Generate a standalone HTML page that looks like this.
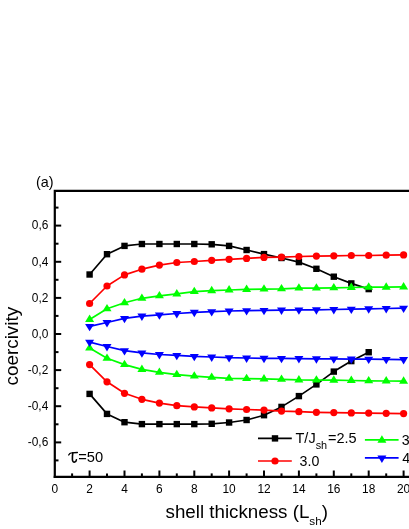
<!DOCTYPE html>
<html><head><meta charset="utf-8"><title>chart</title>
<style>
html,body{margin:0;padding:0;background:#fff;}
body{width:409px;height:529px;position:relative;overflow:hidden;font-family:"Liberation Sans",sans-serif;}
</style></head><body>
<svg width="409" height="529" viewBox="0 0 409 529" style="position:absolute;left:0;top:0;will-change:transform">
<polyline points="89.6,274.5 107.0,254.2 124.5,245.9 141.9,244.0 159.4,244.0 176.8,244.0 194.3,244.0 211.7,244.3 229.1,245.9 246.6,250.0 264.0,254.1 281.5,258.0 298.9,262.1 316.4,268.8 333.8,276.7 351.3,283.4 368.7,289.1" fill="none" stroke="#000" stroke-width="1.7" stroke-linejoin="round"/>
<rect x="86.4" y="271.3" width="6.4" height="6.4" fill="#000"/><rect x="103.8" y="251.0" width="6.4" height="6.4" fill="#000"/><rect x="121.3" y="242.7" width="6.4" height="6.4" fill="#000"/><rect x="138.7" y="240.8" width="6.4" height="6.4" fill="#000"/><rect x="156.2" y="240.8" width="6.4" height="6.4" fill="#000"/><rect x="173.6" y="240.8" width="6.4" height="6.4" fill="#000"/><rect x="191.1" y="240.8" width="6.4" height="6.4" fill="#000"/><rect x="208.5" y="241.1" width="6.4" height="6.4" fill="#000"/><rect x="225.9" y="242.7" width="6.4" height="6.4" fill="#000"/><rect x="243.4" y="246.8" width="6.4" height="6.4" fill="#000"/><rect x="260.8" y="250.9" width="6.4" height="6.4" fill="#000"/><rect x="278.3" y="254.8" width="6.4" height="6.4" fill="#000"/><rect x="295.7" y="258.9" width="6.4" height="6.4" fill="#000"/><rect x="313.2" y="265.6" width="6.4" height="6.4" fill="#000"/><rect x="330.6" y="273.5" width="6.4" height="6.4" fill="#000"/><rect x="348.1" y="280.2" width="6.4" height="6.4" fill="#000"/><rect x="365.5" y="285.9" width="6.4" height="6.4" fill="#000"/>
<polyline points="89.6,393.9 107.0,413.9 124.5,422.2 141.9,424.1 159.4,424.1 176.8,424.1 194.3,424.1 211.7,423.8 229.1,422.5 246.6,420.0 264.0,415.2 281.5,406.9 298.9,396.1 316.4,384.4 333.8,371.6 351.3,361.1 368.7,352.2" fill="none" stroke="#000" stroke-width="1.7" stroke-linejoin="round"/>
<rect x="86.4" y="390.7" width="6.4" height="6.4" fill="#000"/><rect x="103.8" y="410.7" width="6.4" height="6.4" fill="#000"/><rect x="121.3" y="419.0" width="6.4" height="6.4" fill="#000"/><rect x="138.7" y="420.9" width="6.4" height="6.4" fill="#000"/><rect x="156.2" y="420.9" width="6.4" height="6.4" fill="#000"/><rect x="173.6" y="420.9" width="6.4" height="6.4" fill="#000"/><rect x="191.1" y="420.9" width="6.4" height="6.4" fill="#000"/><rect x="208.5" y="420.6" width="6.4" height="6.4" fill="#000"/><rect x="225.9" y="419.3" width="6.4" height="6.4" fill="#000"/><rect x="243.4" y="416.8" width="6.4" height="6.4" fill="#000"/><rect x="260.8" y="412.0" width="6.4" height="6.4" fill="#000"/><rect x="278.3" y="403.7" width="6.4" height="6.4" fill="#000"/><rect x="295.7" y="392.9" width="6.4" height="6.4" fill="#000"/><rect x="313.2" y="381.2" width="6.4" height="6.4" fill="#000"/><rect x="330.6" y="368.4" width="6.4" height="6.4" fill="#000"/><rect x="348.1" y="357.9" width="6.4" height="6.4" fill="#000"/><rect x="365.5" y="349.0" width="6.4" height="6.4" fill="#000"/>
<polyline points="89.6,303.5 107.0,286.0 124.5,274.9 141.9,269.2 159.4,265.1 176.8,262.5 194.3,261.5 211.7,260.3 229.1,259.3 246.6,258.4 264.0,257.4 281.5,257.1 298.9,256.5 316.4,256.1 333.8,255.8 351.3,255.5 368.7,255.5 386.2,255.2 403.6,254.9" fill="none" stroke="#ff0000" stroke-width="1.7" stroke-linejoin="round"/>
<circle cx="89.6" cy="303.5" r="3.6" fill="#ff0000"/><circle cx="107.0" cy="286.0" r="3.6" fill="#ff0000"/><circle cx="124.5" cy="274.9" r="3.6" fill="#ff0000"/><circle cx="141.9" cy="269.2" r="3.6" fill="#ff0000"/><circle cx="159.4" cy="265.1" r="3.6" fill="#ff0000"/><circle cx="176.8" cy="262.5" r="3.6" fill="#ff0000"/><circle cx="194.3" cy="261.5" r="3.6" fill="#ff0000"/><circle cx="211.7" cy="260.3" r="3.6" fill="#ff0000"/><circle cx="229.1" cy="259.3" r="3.6" fill="#ff0000"/><circle cx="246.6" cy="258.4" r="3.6" fill="#ff0000"/><circle cx="264.0" cy="257.4" r="3.6" fill="#ff0000"/><circle cx="281.5" cy="257.1" r="3.6" fill="#ff0000"/><circle cx="298.9" cy="256.5" r="3.6" fill="#ff0000"/><circle cx="316.4" cy="256.1" r="3.6" fill="#ff0000"/><circle cx="333.8" cy="255.8" r="3.6" fill="#ff0000"/><circle cx="351.3" cy="255.5" r="3.6" fill="#ff0000"/><circle cx="368.7" cy="255.5" r="3.6" fill="#ff0000"/><circle cx="386.2" cy="255.2" r="3.6" fill="#ff0000"/><circle cx="403.6" cy="254.9" r="3.6" fill="#ff0000"/>
<polyline points="89.6,364.6 107.0,381.8 124.5,393.3 141.9,399.3 159.4,403.1 176.8,405.7 194.3,406.9 211.7,407.9 229.1,408.8 246.6,409.5 264.0,410.1 281.5,411.1 298.9,411.7 316.4,412.3 333.8,412.6 351.3,412.9 368.7,413.1 386.2,413.3 403.6,413.6" fill="none" stroke="#ff0000" stroke-width="1.7" stroke-linejoin="round"/>
<circle cx="89.6" cy="364.6" r="3.6" fill="#ff0000"/><circle cx="107.0" cy="381.8" r="3.6" fill="#ff0000"/><circle cx="124.5" cy="393.3" r="3.6" fill="#ff0000"/><circle cx="141.9" cy="399.3" r="3.6" fill="#ff0000"/><circle cx="159.4" cy="403.1" r="3.6" fill="#ff0000"/><circle cx="176.8" cy="405.7" r="3.6" fill="#ff0000"/><circle cx="194.3" cy="406.9" r="3.6" fill="#ff0000"/><circle cx="211.7" cy="407.9" r="3.6" fill="#ff0000"/><circle cx="229.1" cy="408.8" r="3.6" fill="#ff0000"/><circle cx="246.6" cy="409.5" r="3.6" fill="#ff0000"/><circle cx="264.0" cy="410.1" r="3.6" fill="#ff0000"/><circle cx="281.5" cy="411.1" r="3.6" fill="#ff0000"/><circle cx="298.9" cy="411.7" r="3.6" fill="#ff0000"/><circle cx="316.4" cy="412.3" r="3.6" fill="#ff0000"/><circle cx="333.8" cy="412.6" r="3.6" fill="#ff0000"/><circle cx="351.3" cy="412.9" r="3.6" fill="#ff0000"/><circle cx="368.7" cy="413.1" r="3.6" fill="#ff0000"/><circle cx="386.2" cy="413.3" r="3.6" fill="#ff0000"/><circle cx="403.6" cy="413.6" r="3.6" fill="#ff0000"/>
<polyline points="89.6,319.4 107.0,308.8 124.5,302.8 141.9,298.3 159.4,295.8 176.8,293.9 194.3,291.6 211.7,290.7 229.1,290.0 246.6,289.4 264.0,289.1 281.5,288.8 298.9,288.1 316.4,288.1 333.8,287.8 351.3,287.5 368.7,287.2 386.2,287.2 403.6,286.9" fill="none" stroke="#00ff00" stroke-width="1.7" stroke-linejoin="round"/>
<polygon points="85.1,321.9 94.1,321.9 89.6,314.5" fill="#00ff00"/><polygon points="102.5,311.3 111.5,311.3 107.0,303.9" fill="#00ff00"/><polygon points="120.0,305.3 129.0,305.3 124.5,297.9" fill="#00ff00"/><polygon points="137.4,300.8 146.4,300.8 141.9,293.4" fill="#00ff00"/><polygon points="154.9,298.3 163.9,298.3 159.4,290.9" fill="#00ff00"/><polygon points="172.3,296.4 181.3,296.4 176.8,289.0" fill="#00ff00"/><polygon points="189.8,294.1 198.8,294.1 194.3,286.7" fill="#00ff00"/><polygon points="207.2,293.2 216.2,293.2 211.7,285.8" fill="#00ff00"/><polygon points="224.6,292.5 233.6,292.5 229.1,285.1" fill="#00ff00"/><polygon points="242.1,291.9 251.1,291.9 246.6,284.5" fill="#00ff00"/><polygon points="259.5,291.6 268.5,291.6 264.0,284.2" fill="#00ff00"/><polygon points="277.0,291.3 286.0,291.3 281.5,283.9" fill="#00ff00"/><polygon points="294.4,290.6 303.4,290.6 298.9,283.2" fill="#00ff00"/><polygon points="311.9,290.6 320.9,290.6 316.4,283.2" fill="#00ff00"/><polygon points="329.3,290.3 338.3,290.3 333.8,282.9" fill="#00ff00"/><polygon points="346.8,290.0 355.8,290.0 351.3,282.6" fill="#00ff00"/><polygon points="364.2,289.7 373.2,289.7 368.7,282.3" fill="#00ff00"/><polygon points="381.7,289.7 390.7,289.7 386.2,282.3" fill="#00ff00"/><polygon points="399.1,289.4 408.1,289.4 403.6,282.0" fill="#00ff00"/>
<polyline points="89.6,348.1 107.0,358.3 124.5,364.6 141.9,369.4 159.4,372.3 176.8,374.6 194.3,376.1 211.7,377.3 229.1,378.3 246.6,378.6 264.0,378.9 281.5,379.3 298.9,379.9 316.4,380.1 333.8,380.2 351.3,380.5 368.7,380.8 386.2,381.0 403.6,381.2" fill="none" stroke="#00ff00" stroke-width="1.7" stroke-linejoin="round"/>
<polygon points="85.1,350.6 94.1,350.6 89.6,343.2" fill="#00ff00"/><polygon points="102.5,360.8 111.5,360.8 107.0,353.4" fill="#00ff00"/><polygon points="120.0,367.1 129.0,367.1 124.5,359.7" fill="#00ff00"/><polygon points="137.4,371.9 146.4,371.9 141.9,364.5" fill="#00ff00"/><polygon points="154.9,374.8 163.9,374.8 159.4,367.4" fill="#00ff00"/><polygon points="172.3,377.1 181.3,377.1 176.8,369.7" fill="#00ff00"/><polygon points="189.8,378.6 198.8,378.6 194.3,371.2" fill="#00ff00"/><polygon points="207.2,379.8 216.2,379.8 211.7,372.4" fill="#00ff00"/><polygon points="224.6,380.8 233.6,380.8 229.1,373.4" fill="#00ff00"/><polygon points="242.1,381.1 251.1,381.1 246.6,373.7" fill="#00ff00"/><polygon points="259.5,381.4 268.5,381.4 264.0,374.0" fill="#00ff00"/><polygon points="277.0,381.8 286.0,381.8 281.5,374.4" fill="#00ff00"/><polygon points="294.4,382.4 303.4,382.4 298.9,375.0" fill="#00ff00"/><polygon points="311.9,382.6 320.9,382.6 316.4,375.2" fill="#00ff00"/><polygon points="329.3,382.7 338.3,382.7 333.8,375.3" fill="#00ff00"/><polygon points="346.8,383.0 355.8,383.0 351.3,375.6" fill="#00ff00"/><polygon points="364.2,383.3 373.2,383.3 368.7,375.9" fill="#00ff00"/><polygon points="381.7,383.5 390.7,383.5 386.2,376.1" fill="#00ff00"/><polygon points="399.1,383.7 408.1,383.7 403.6,376.3" fill="#00ff00"/>
<polyline points="89.6,326.4 107.0,322.5 124.5,318.4 141.9,316.1 159.4,314.9 176.8,313.5 194.3,312.3 211.7,311.7 229.1,311.0 246.6,310.7 264.0,310.4 281.5,310.1 298.9,309.9 316.4,309.8 333.8,309.5 351.3,309.2 368.7,308.8 386.2,308.5 403.6,308.2" fill="none" stroke="#0000ff" stroke-width="1.7" stroke-linejoin="round"/>
<polygon points="85.1,323.9 94.1,323.9 89.6,331.3" fill="#0000ff"/><polygon points="102.5,320.0 111.5,320.0 107.0,327.4" fill="#0000ff"/><polygon points="120.0,315.9 129.0,315.9 124.5,323.3" fill="#0000ff"/><polygon points="137.4,313.6 146.4,313.6 141.9,321.0" fill="#0000ff"/><polygon points="154.9,312.4 163.9,312.4 159.4,319.8" fill="#0000ff"/><polygon points="172.3,311.0 181.3,311.0 176.8,318.4" fill="#0000ff"/><polygon points="189.8,309.8 198.8,309.8 194.3,317.2" fill="#0000ff"/><polygon points="207.2,309.2 216.2,309.2 211.7,316.6" fill="#0000ff"/><polygon points="224.6,308.5 233.6,308.5 229.1,315.9" fill="#0000ff"/><polygon points="242.1,308.2 251.1,308.2 246.6,315.6" fill="#0000ff"/><polygon points="259.5,307.9 268.5,307.9 264.0,315.3" fill="#0000ff"/><polygon points="277.0,307.6 286.0,307.6 281.5,315.0" fill="#0000ff"/><polygon points="294.4,307.4 303.4,307.4 298.9,314.8" fill="#0000ff"/><polygon points="311.9,307.3 320.9,307.3 316.4,314.7" fill="#0000ff"/><polygon points="329.3,307.0 338.3,307.0 333.8,314.4" fill="#0000ff"/><polygon points="346.8,306.7 355.8,306.7 351.3,314.1" fill="#0000ff"/><polygon points="364.2,306.3 373.2,306.3 368.7,313.7" fill="#0000ff"/><polygon points="381.7,306.0 390.7,306.0 386.2,313.4" fill="#0000ff"/><polygon points="399.1,305.7 408.1,305.7 403.6,313.1" fill="#0000ff"/>
<polyline points="89.6,342.2 107.0,346.5 124.5,350.7 141.9,352.9 159.4,354.5 176.8,355.4 194.3,356.4 211.7,357.0 229.1,357.7 246.6,358.0 264.0,358.3 281.5,358.4 298.9,358.6 316.4,358.8 333.8,358.9 351.3,359.1 368.7,359.2 386.2,359.4 403.6,359.6" fill="none" stroke="#0000ff" stroke-width="1.7" stroke-linejoin="round"/>
<polygon points="85.1,339.7 94.1,339.7 89.6,347.1" fill="#0000ff"/><polygon points="102.5,344.0 111.5,344.0 107.0,351.4" fill="#0000ff"/><polygon points="120.0,348.2 129.0,348.2 124.5,355.6" fill="#0000ff"/><polygon points="137.4,350.4 146.4,350.4 141.9,357.8" fill="#0000ff"/><polygon points="154.9,352.0 163.9,352.0 159.4,359.4" fill="#0000ff"/><polygon points="172.3,352.9 181.3,352.9 176.8,360.3" fill="#0000ff"/><polygon points="189.8,353.9 198.8,353.9 194.3,361.3" fill="#0000ff"/><polygon points="207.2,354.5 216.2,354.5 211.7,361.9" fill="#0000ff"/><polygon points="224.6,355.2 233.6,355.2 229.1,362.6" fill="#0000ff"/><polygon points="242.1,355.5 251.1,355.5 246.6,362.9" fill="#0000ff"/><polygon points="259.5,355.8 268.5,355.8 264.0,363.2" fill="#0000ff"/><polygon points="277.0,355.9 286.0,355.9 281.5,363.3" fill="#0000ff"/><polygon points="294.4,356.1 303.4,356.1 298.9,363.5" fill="#0000ff"/><polygon points="311.9,356.3 320.9,356.3 316.4,363.7" fill="#0000ff"/><polygon points="329.3,356.4 338.3,356.4 333.8,363.8" fill="#0000ff"/><polygon points="346.8,356.6 355.8,356.6 351.3,364.0" fill="#0000ff"/><polygon points="364.2,356.7 373.2,356.7 368.7,364.1" fill="#0000ff"/><polygon points="381.7,356.9 390.7,356.9 386.2,364.3" fill="#0000ff"/><polygon points="399.1,357.1 408.1,357.1 403.6,364.5" fill="#0000ff"/>
<g stroke="#000" stroke-width="2.2" fill="none">
<path d="M54.8,477.9 L54.8,190.85 L409,190.85"/>
<path d="M53.7,476.8 L409,476.8"/>
</g>
<g stroke="#000" stroke-width="2">
<line x1="72.1" y1="476.5" x2="72.1" y2="473.4"/><line x1="89.6" y1="476.5" x2="89.6" y2="470.5"/><line x1="107.0" y1="476.5" x2="107.0" y2="473.4"/><line x1="124.5" y1="476.5" x2="124.5" y2="470.5"/><line x1="141.9" y1="476.5" x2="141.9" y2="473.4"/><line x1="159.4" y1="476.5" x2="159.4" y2="470.5"/><line x1="176.8" y1="476.5" x2="176.8" y2="473.4"/><line x1="194.3" y1="476.5" x2="194.3" y2="470.5"/><line x1="211.7" y1="476.5" x2="211.7" y2="473.4"/><line x1="229.1" y1="476.5" x2="229.1" y2="470.5"/><line x1="246.6" y1="476.5" x2="246.6" y2="473.4"/><line x1="264.0" y1="476.5" x2="264.0" y2="470.5"/><line x1="281.5" y1="476.5" x2="281.5" y2="473.4"/><line x1="298.9" y1="476.5" x2="298.9" y2="470.5"/><line x1="316.4" y1="476.5" x2="316.4" y2="473.4"/><line x1="333.8" y1="476.5" x2="333.8" y2="470.5"/><line x1="351.3" y1="476.5" x2="351.3" y2="473.4"/><line x1="368.7" y1="476.5" x2="368.7" y2="470.5"/><line x1="386.2" y1="476.5" x2="386.2" y2="473.4"/><line x1="403.6" y1="476.5" x2="403.6" y2="470.5"/>
<line x1="55" y1="460.4" x2="58.5" y2="460.4"/><line x1="55" y1="442.4" x2="61.2" y2="442.4"/><line x1="55" y1="424.3" x2="58.5" y2="424.3"/><line x1="55" y1="406.2" x2="61.2" y2="406.2"/><line x1="55" y1="388.2" x2="58.5" y2="388.2"/><line x1="55" y1="370.1" x2="61.2" y2="370.1"/><line x1="55" y1="352.1" x2="58.5" y2="352.1"/><line x1="55" y1="334.0" x2="61.2" y2="334.0"/><line x1="55" y1="315.9" x2="58.5" y2="315.9"/><line x1="55" y1="297.9" x2="61.2" y2="297.9"/><line x1="55" y1="279.8" x2="58.5" y2="279.8"/><line x1="55" y1="261.8" x2="61.2" y2="261.8"/><line x1="55" y1="243.7" x2="58.5" y2="243.7"/><line x1="55" y1="225.6" x2="61.2" y2="225.6"/><line x1="55" y1="207.6" x2="58.5" y2="207.6"/>
</g>
<g font-family="Liberation Sans, sans-serif" font-size="11.9" fill="#000">
<text x="54.7" y="492.8" text-anchor="middle">0</text><text x="89.6" y="492.8" text-anchor="middle">2</text><text x="124.5" y="492.8" text-anchor="middle">4</text><text x="159.4" y="492.8" text-anchor="middle">6</text><text x="194.3" y="492.8" text-anchor="middle">8</text><text x="229.1" y="492.8" text-anchor="middle">10</text><text x="264.0" y="492.8" text-anchor="middle">12</text><text x="298.9" y="492.8" text-anchor="middle">14</text><text x="333.8" y="492.8" text-anchor="middle">16</text><text x="368.7" y="492.8" text-anchor="middle">18</text><text x="403.6" y="492.8" text-anchor="middle">20</text>
<text x="48.3" y="446.1" text-anchor="end">-0,6</text><text x="48.3" y="410.0" text-anchor="end">-0,4</text><text x="48.3" y="373.9" text-anchor="end">-0,2</text><text x="48.3" y="337.8" text-anchor="end">0,0</text><text x="48.3" y="301.6" text-anchor="end">0,2</text><text x="48.3" y="265.5" text-anchor="end">0,4</text><text x="48.3" y="229.4" text-anchor="end">0,6</text>
</g>
<g font-family="Liberation Sans, sans-serif" fill="#000">
<text x="36.0" y="186.9" font-size="14.4">(a)</text>
<text transform="translate(18.4,385.4) rotate(-90)" font-size="18.85">coercivity</text>
<text x="165.5" y="518.4" font-size="18.75">shell thickness (L<tspan font-size="11.7" dy="6.3">sh</tspan><tspan dy="-6.3">)</tspan></text>
<g transform="translate(0.4,0)"><path d="M68.3,455 C68.8,453.6 69.8,452.8 71.2,452.8 L77,452.5" fill="none" stroke="#000" stroke-width="1.3" stroke-linecap="round"/><path d="M72.4,452.9 C72.1,455 71.9,457.5 72,459.5 C72.1,461.6 73.2,462.4 74.3,462.1 C75.2,461.8 75.8,460.8 76,459.8" fill="none" stroke="#000" stroke-width="1.6" stroke-linecap="round"/></g>
<text x="78.3" y="462.2" font-size="14.7">=50</text>
<line x1="258.0" y1="438.4" x2="291.8" y2="438.4" stroke="#000" stroke-width="1.7"/><rect x="271.8" y="435.2" width="6.4" height="6.4" fill="#000"/>
<text x="295.5" y="443.4" font-size="14.5">T/J<tspan font-size="10.9" dy="5.2">sh</tspan><tspan dy="-5.2" dx="0.9">=2.5</tspan></text>
<line x1="258.0" y1="461.0" x2="291.8" y2="461.0" stroke="#ff0000" stroke-width="1.7"/><circle cx="275.0" cy="461.0" r="3.6" fill="#ff0000"/>
<text x="299.6" y="465.9" font-size="14.2">3.0</text>
<line x1="364.9" y1="439.9" x2="398.6" y2="439.9" stroke="#00ff00" stroke-width="1.7"/><polygon points="377.4,442.7 386.4,442.7 381.9,435.3" fill="#00ff00"/>
<text x="401.8" y="445.1" font-size="14.2">3.5</text>
<line x1="364.9" y1="457.8" x2="398.6" y2="457.8" stroke="#0000ff" stroke-width="1.7"/><polygon points="377.4,455.5 386.4,455.5 381.9,462.9" fill="#0000ff"/>
<text x="402.3" y="462.7" font-size="14.2">4.0</text>
</g>
</svg>
</body></html>
